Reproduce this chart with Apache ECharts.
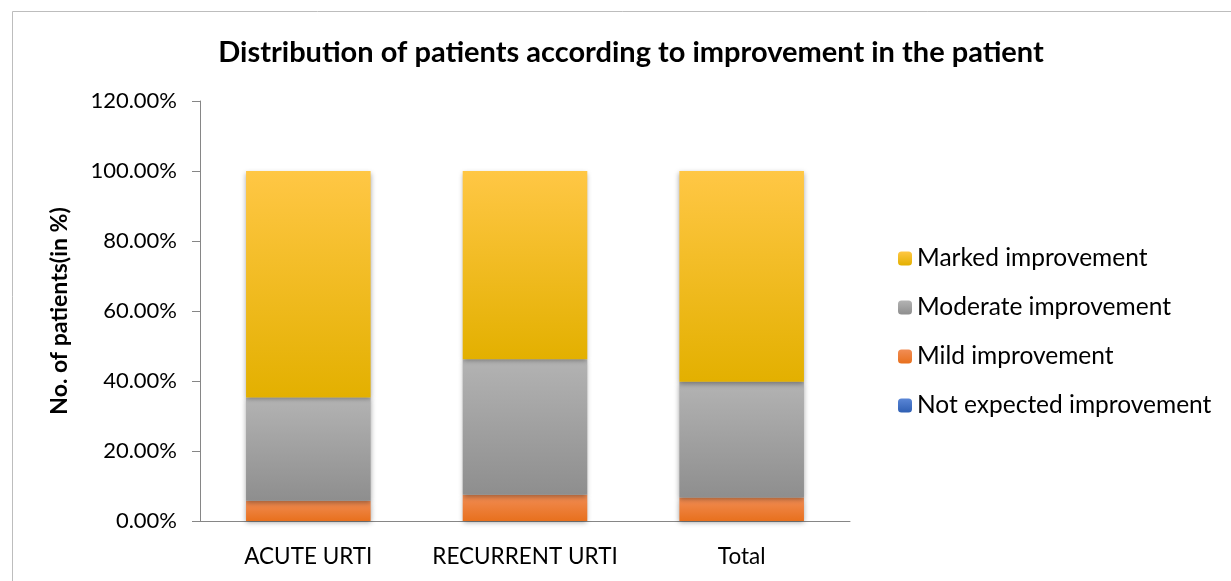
<!DOCTYPE html>
<html>
<head>
<meta charset="utf-8">
<script src="https://cdn.jsdelivr.net/npm/echarts@6/dist/echarts.min.js"></script>
<style>html,body{margin:0;padding:0;background:#fff}#c{width:1231px;height:581px}</style>
</head>
<body>
<div id="c"></div>
<script>
var categories = ['ACUTE URTI', 'RECURRENT URTI', 'Total'];
var notExpected = [0, 0, 0];
var mild = [5.8, 7.5, 6.7];
var moderate = [29.5, 38.7, 33.1];
var marked = [64.7, 53.8, 60.2];
var yTicks = [0, 20, 40, 60, 80, 100, 120];

function grad(top, bottom) {
  return {type:'linear', x:0, y:0, x2:0, y2:1, colorStops:[{offset:0, color:top},{offset:1, color:bottom}]};
}
var FONT = 'Lato';
var chart = echarts.init(document.getElementById('c'), null, {renderer:'canvas'});
var barStyle = function(top, bottom){
  return {color: grad(top, bottom), shadowColor:'rgba(0,0,0,0.35)', shadowBlur:5, shadowOffsetY:2};
};
chart.setOption({
  animation:false,
  backgroundColor:'#fff',
  graphic:[{type:'rect', left:10, top:9, shape:{width:1240, height:600}, style:{fill:'none', stroke:'#bdbdbd', lineWidth:1}, silent:true}],
  title:{text:'Distribution of patients according to improvement in the patient', left:626, textAlign:'center', top:33,
    textStyle:{fontFamily:FONT, fontWeight:'bold', fontSize:29, color:'#000'}},
  grid:{left:200, right:381, top:101, bottom:60},
  legend:{orient:'vertical', left:893, top:241, itemGap:24, itemWidth:14, itemHeight:14,
    textStyle:{fontFamily:FONT, fontSize:24.5, color:'#000', padding:[0,0,0,0]},
    data:['Marked improvement','Moderate improvement','Mild improvement','Not expected improvement']},
  xAxis:{type:'category', data:categories, axisTick:{show:false},
    axisLine:{lineStyle:{color:'#868686', width:1}},
    axisLabel:{interval:0, hideOverlap:false, fontFamily:FONT, fontSize:22.5, color:'#000', margin:24}},
  yAxis:{type:'value', min:yTicks[0], max:yTicks[yTicks.length-1], interval:20,
    name:'No. of patients(in %)', nameLocation:'middle', nameGap:129, nameRotate:90,
    nameTextStyle:{fontFamily:FONT, fontWeight:'bold', fontSize:23, color:'#000'},
    axisLine:{show:true, lineStyle:{color:'#868686'}},
    axisTick:{show:true, length:8, lineStyle:{color:'#868686'}},
    splitLine:{show:false},
    axisLabel:{fontFamily:FONT, fontSize:22, color:'#000', margin:23, formatter:function(v){return v.toFixed(2)+'%';}}},
  series:[
    {name:'Not expected improvement', type:'bar', stack:'s', barWidth:'57.5%', data:notExpected,
      itemStyle:{color:grad('#5a86d6','#2f5fb3')}},
    {name:'Mild improvement', type:'bar', stack:'s', data:mild, itemStyle:barStyle('#f18d55','#e8701d')},
    {name:'Moderate improvement', type:'bar', stack:'s', data:moderate, itemStyle:barStyle('#b3b3b3','#8e8e8e')},
    {name:'Marked improvement', type:'bar', stack:'s', data:marked, itemStyle:barStyle('#ffc745','#e3b000')}
  ]
});
</script>
</body>
</html>
